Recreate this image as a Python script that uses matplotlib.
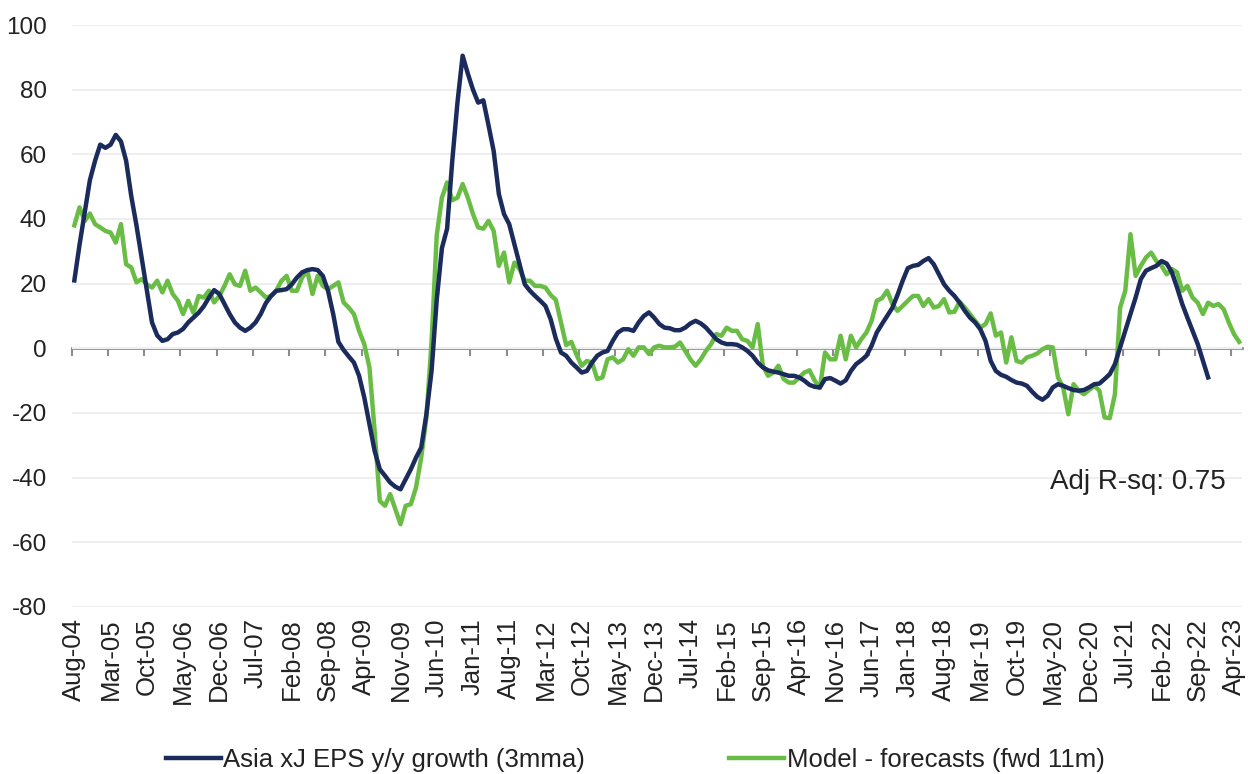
import matplotlib
matplotlib.use("Agg")
import matplotlib.pyplot as plt
import numpy as np

plt.rcParams["font.family"] = ["Liberation Sans", "DejaVu Sans"]
plt.rcParams["axes.unicode_minus"] = False

# monthly categories run Aug-04 .. May-23 (226 months); labels every 7th month
tick_labels = [
    "Aug-04", "Mar-05", "Oct-05", "May-06", "Dec-06", "Jul-07", "Feb-08", "Sep-08",
    "Apr-09", "Nov-09", "Jun-10", "Jan-11", "Aug-11", "Mar-12", "Oct-12", "May-13",
    "Dec-13", "Jul-14", "Feb-15", "Sep-15", "Apr-16", "Nov-16", "Jun-17", "Jan-18",
    "Aug-18", "Mar-19", "Oct-19", "May-20", "Dec-20", "Jul-21", "Feb-22", "Sep-22",
    "Apr-23",
]
n_months = 226
label_step = 7

# Asia xJ EPS y/y growth (3mma), Aug-04 .. Nov-22
eps_growth = [
    21, 32, 42, 52, 58, 63, 62, 63, 66, 64,
    58, 47, 38, 28, 18, 8, 4, 2.3, 2.8, 4.4,
    4.9, 6, 8, 9.5, 11, 13, 15.7, 18, 16.8, 13.7,
    10.6, 8, 6.4, 5.4, 6.4, 8, 10.6, 14, 16.2, 17.8,
    18, 18.3, 19.8, 21.9, 23.5, 24.2, 24.5, 24.2, 22.4, 17.8,
    10.6, 2, -0.5, -2.5, -4.4, -8.5, -15.2, -23.5, -31.7, -37.4,
    -39.4, -41.5, -42.8, -43.6, -40.5, -37.4, -33.8, -30.7, -20.4, -7,
    15, 31, 37, 58, 76, 90.5, 85, 80, 76, 76.7,
    69, 61, 47.7, 41.5, 38.4, 32.2, 26, 19.8, 17.8, 16.2,
    14.7, 13.1, 9, 3, -1.3, -2.3, -4.4, -5.9, -7.5, -7,
    -4.4, -2.3, -1.3, -0.8, 2.3, 4.9, 5.9, 5.9, 5.4, 8,
    10, 11.1, 9.5, 7.5, 6.4, 6.2, 5.6, 5.6, 6.4, 7.7,
    8.5, 7.7, 6.4, 4.6, 2.8, 1.8, 1.3, 1.3, 1.1, 0.3,
    -0.8, -2.3, -4.4, -5.9, -6.8, -7.2, -7.5, -8, -8.5, -8.5,
    -9, -10, -11.3, -11.9, -12.1, -9.5, -9.2, -10, -10.9, -9.9,
    -7, -4.9, -3.7, -2.3, 0.8, 4.9, 7.5, 10, 12.5, 16.5,
    20.9, 24.8, 25.5, 25.8, 27, 27.9, 26, 22.9, 19.8, 17.8,
    16.2, 14.1, 11.6, 9.5, 8, 5.9, 2.3, -3.9, -7, -8.2,
    -8.8, -9.8, -10.6, -10.9, -11.6, -13.4, -15, -15.9, -14.7, -12.1,
    -11.1, -11.6, -12.3, -12.9, -13.1, -12.9, -12.1, -11.1, -10.9, -9.5,
    -8, -4.9, 0.3, 5.4, 10.6, 15.7, 21.4, 24, 24.8, 25.5,
    27, 26.2, 23.5, 18.8, 13.7, 9.5, 5.4, 1.3, -3.9, -9,
]

# Model - forecasts (fwd 11m), Aug-04 .. May-23
model_fcst = [
    38, 43.6, 39.4, 41.7, 38.4, 37.4, 36.3, 35.8, 32.7, 38.4,
    26, 25, 20.4, 21.4, 19.8, 18.8, 20.9, 17.3, 20.9, 16.8,
    14.7, 10.6, 14.7, 11, 16.2, 15.7, 17.8, 14.2, 16.2, 19.3,
    22.9, 19.8, 19.3, 24, 17.8, 18.8, 17.3, 15.7, 16.2, 17.8,
    20.9, 22.4, 17.8, 17.8, 21.9, 24, 16.8, 22.4, 19.3, 18.3,
    19.3, 20.4, 14.2, 12.6, 10.6, 5.4, 1.3, -5.9, -25.5, -47.2,
    -48.7, -45.1, -49.7, -54.4, -48.7, -48.2, -43, -33.8, -21.4, 2,
    35, 46.6, 51.3, 45.8, 46.6, 50.8, 46.6, 41.5, 37.4, 37,
    39.4, 36.3, 25.5, 29.6, 20.4, 26.5, 24.5, 20.9, 20.9, 19.3,
    19.3, 18.8, 16.5, 15, 8, 1, 2, -2, -5.4, -3.9,
    -4.4, -9.5, -9, -3.4, -2.8, -4.4, -3.4, -0.3, -2.3, 0.3,
    0.3, -1.8, 0.3, 0.8, 0.3, 0.3, 0.5, 1.8, -0.8, -3.4,
    -5.4, -3.4, -0.8, 1.3, 4.4, 3.9, 6.4, 5.4, 5.4, 2.8,
    2.3, 0.3, 7.5, -5.4, -8.5, -7.5, -5.4, -9.5, -10.6, -10.6,
    -9, -7.5, -6.8, -10, -12.3, -1.3, -3.4, -3.4, 3.9, -3.4,
    3.9, 0.3, 2.8, 4.9, 8.5, 14.7, 15.5, 17.8, 13.7, 11.6,
    13.1, 14.7, 16.2, 16.2, 13.1, 15.2, 12.6, 13.1, 15.2, 11.1,
    11.3, 14.4, 12.6, 10.6, 8.5, 6.4, 7.5, 10.8, 3.9, 4.9,
    -4.4, 3.4, -3.9, -4.4, -2.8, -2.3, -1.6, -0.3, 0.5, 0.3,
    -9, -12.1, -20.4, -11.1, -13.1, -14.2, -12.9, -11.6, -13.1, -21.4,
    -21.6, -14.2, 12.6, 17.8, 35.3, 22.4, 25.5, 28.1, 29.6, 27,
    25.5, 22.9, 24.5, 23.5, 17.8, 19.3, 15.7, 14.1, 10.6, 14.1,
    13.1, 13.7, 12.1, 8, 4.4, 2.0,
]

y_min, y_max = -80, 100
navy = "#1b2b5b"
green = "#69bd45"
txt = "#222222"

fig = plt.figure(figsize=(12.48, 7.74), dpi=100)
ax = fig.add_axes([0.0575, 0.2158, 0.9375, 0.7519])

ax.plot(np.arange(len(eps_growth)), eps_growth, color=navy, lw=3.2,
        solid_joinstyle="round", label="Asia xJ EPS y/y growth (3mma)", zorder=4)
ax.plot(np.arange(len(model_fcst)), model_fcst, color=green, lw=3.2,
        solid_joinstyle="round", label="Model - forecasts (fwd 11m)", zorder=3)

ax.set_xlim(-0.5, n_months - 0.5)
ax.set_ylim(y_min, y_max)
for s in ax.spines.values():
    s.set_visible(False)

ax.set_yticks(np.arange(y_min, y_max + 1, 20))
ax.yaxis.grid(True, color="#efefef", lw=1.5)
ax.set_axisbelow(True)
ax.tick_params(axis="y", length=0, pad=18, labelsize=17.5, labelcolor=txt)

ax.set_xticks(np.arange(0, n_months, label_step)[:len(tick_labels)])
ax.set_xticklabels(tick_labels, rotation=90)
ax.tick_params(axis="x", length=0, pad=8, labelsize=18.5, labelcolor=txt)

# category axis crossing at zero, tick marks between categories
zero_axis = ax.secondary_xaxis((0 - y_min) / (y_max - y_min))
zero_axis.set_alignment("bottom")
zero_axis.set_xticks(np.arange(-0.5, n_months, label_step))
zero_axis.tick_params(axis="x", length=6, width=1.5, color="#8c8c8c",
                      direction="out", labelbottom=False, labeltop=False)
zero_axis.spines["bottom"].set_color("#8c8c8c")
zero_axis.spines["bottom"].set_linewidth(2)

fig.text(0.982, 0.377, "Adj R-sq: 0.75", ha="right", va="center",
         fontsize=20, color=txt)

handles, labels = ax.get_legend_handles_labels()
fig.legend(handles, labels, loc="center", bbox_to_anchor=(0.509, 0.018), ncol=2,
           frameon=False, fontsize=18.5, handlelength=2.15, handletextpad=0.1,
           columnspacing=5.6, labelcolor=txt)

fig.savefig("out.png", dpi=100)
